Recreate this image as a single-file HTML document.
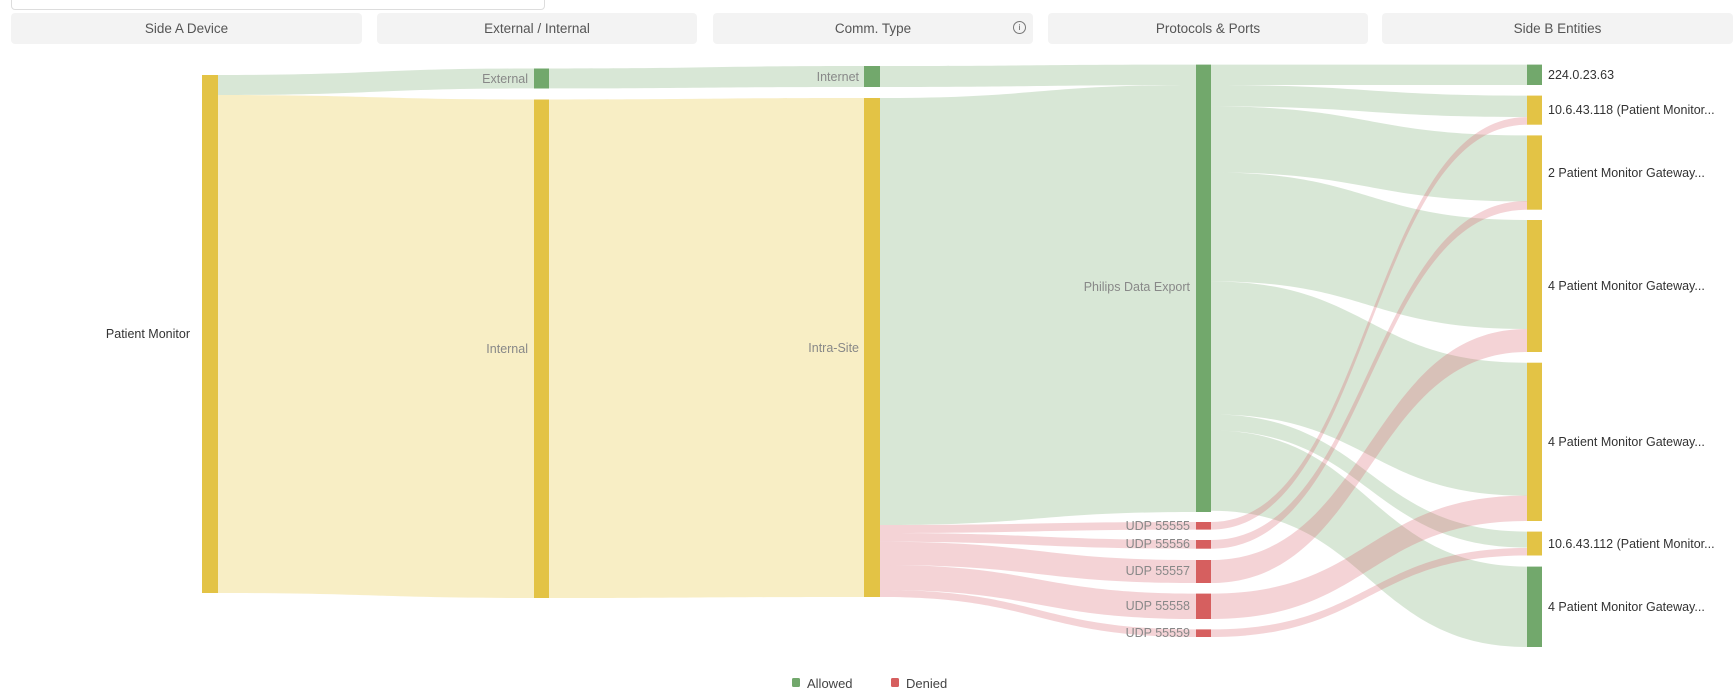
<!DOCTYPE html>
<html><head><meta charset="utf-8"><style>
body{margin:0;width:1733px;height:692px;background:#fff;overflow:hidden;font-family:"Liberation Sans",sans-serif;position:relative}
.hd{position:absolute;top:13px;height:31px;background:#f3f3f3;border-radius:4px;color:#555;font-size:13.5px;display:flex;align-items:center;justify-content:center}
.sb{position:absolute;left:11px;top:-6px;width:532px;height:14px;border:1px solid #ddd;border-radius:4px}
svg{position:absolute;left:0;top:0}
</style></head><body>
<div class="sb"></div>
<div class="hd" style="left:11px;width:351px">Side A Device</div>
<div class="hd" style="left:377px;width:320px">External / Internal</div>
<div class="hd" style="left:713px;width:320px">Comm. Type<span style="position:absolute;left:300px;top:8px;width:11px;height:11px;border:1px solid #777;border-radius:50%;font-size:8px;line-height:11px;text-align:center">i</span></div>
<div class="hd" style="left:1048px;width:320px">Protocols &amp; Ports</div>
<div class="hd" style="left:1382px;width:351px">Side B Entities</div>
<svg width="1733" height="692" font-family="Liberation Sans, sans-serif" font-size="12.5">
<g fill="#e8c94a" fill-opacity="0.32">
<path d="M218 95 C376 95 376 99.5 534 99.5 L534 598 C376 598 376 593 218 593Z"/>
<path d="M549 99.5 C706 99.5 706 98 864 98 L864 597 C706 597 706 598 549 598Z"/>
</g>
<g fill="#74a96d" fill-opacity="0.28">
<path d="M218 75 C376 75 376 68.5 534 68.5 L534 88.4 C376 88.4 376 95 218 95Z"/>
<path d="M549 68.5 C706 68.5 706 66 864 66 L864 87 C706 87 706 88.4 549 88.4Z"/>
<path d="M880 66 C1038 66 1038 64.6 1196 64.6 L1196 85 C1038 85 1038 87 880 87Z"/>
<path d="M880 98 C1038 98 1038 85 1196 85 L1196 512 C1038 512 1038 525 880 525Z"/>
<path d="M1211 64.6 C1369 64.6 1369 64.6 1527 64.6 L1527 85 C1369 85 1369 85 1211 85Z"/>
<path d="M1211 85 C1369 85 1369 95.6 1527 95.6 L1527 117 C1369 117 1369 106.4 1211 106.4Z"/>
<path d="M1211 106.4 C1369 106.4 1369 135.4 1527 135.4 L1527 201.4 C1369 201.4 1369 172.4 1211 172.4Z"/>
<path d="M1211 172.4 C1369 172.4 1369 220 1527 220 L1527 329 C1369 329 1369 281.4 1211 281.4Z"/>
<path d="M1211 281.4 C1369 281.4 1369 362.7 1527 362.7 L1527 495.7 C1369 495.7 1369 414.4 1211 414.4Z"/>
<path d="M1211 414.4 C1369 414.4 1369 531.6 1527 531.6 L1527 547.6 C1369 547.6 1369 430.4 1211 430.4Z"/>
<path d="M1211 430.4 C1369 430.4 1369 566.6 1527 566.6 L1527 647 C1369 647 1369 510.8 1211 510.8Z"/>
</g>
<g fill="#d9606a" fill-opacity="0.28">
<path d="M880 525 C1038 525 1038 522 1196 522 L1196 529.6 C1038 529.6 1038 533 880 533Z"/>
<path d="M880 533 C1038 533 1038 540 1196 540 L1196 548.7 C1038 548.7 1038 541.7 880 541.7Z"/>
<path d="M880 541.7 C1038 541.7 1038 560 1196 560 L1196 583 C1038 583 1038 565 880 565Z"/>
<path d="M880 565 C1038 565 1038 593.6 1196 593.6 L1196 619 C1038 619 1038 590 880 590Z"/>
<path d="M880 590 C1038 590 1038 629.4 1196 629.4 L1196 637 C1038 637 1038 597 880 597Z"/>
<path d="M1211 522 C1369 522 1369 117.1 1527 117.1 L1527 124.7 C1369 124.7 1369 529.6 1211 529.6Z"/>
<path d="M1211 540 C1369 540 1369 201 1527 201 L1527 209.7 C1369 209.7 1369 548.7 1211 548.7Z"/>
<path d="M1211 560 C1369 560 1369 329 1527 329 L1527 352 C1369 352 1369 583 1211 583Z"/>
<path d="M1211 593.6 C1369 593.6 1369 495.6 1527 495.6 L1527 521 C1369 521 1369 619 1211 619Z"/>
<path d="M1211 629.4 C1369 629.4 1369 548 1527 548 L1527 555.5 C1369 555.5 1369 637 1211 637Z"/>
</g>
<g>
<rect x="202" y="75" width="16" height="518" fill="#e3c345"/>
<rect x="534" y="68.5" width="15" height="20" fill="#72a86c"/>
<rect x="534" y="99.5" width="15" height="498.5" fill="#e3c345"/>
<rect x="864" y="66" width="16" height="21" fill="#72a86c"/>
<rect x="864" y="98" width="16" height="499" fill="#e3c345"/>
<rect x="1196" y="64.6" width="15" height="447.4" fill="#72a86c"/>
<rect x="1196" y="522" width="15" height="7.6" fill="#d65f5f"/>
<rect x="1196" y="540" width="15" height="8.7" fill="#d65f5f"/>
<rect x="1196" y="560" width="15" height="23" fill="#d65f5f"/>
<rect x="1196" y="593.6" width="15" height="25.4" fill="#d65f5f"/>
<rect x="1196" y="629.4" width="15" height="7.6" fill="#d65f5f"/>
<rect x="1527" y="64.6" width="15" height="20.4" fill="#72a86c"/>
<rect x="1527" y="95.6" width="15" height="29.1" fill="#e3c345"/>
<rect x="1527" y="135.4" width="15" height="74.3" fill="#e3c345"/>
<rect x="1527" y="220" width="15" height="132" fill="#e3c345"/>
<rect x="1527" y="362.7" width="15" height="158.3" fill="#e3c345"/>
<rect x="1527" y="531.6" width="15" height="23.9" fill="#e3c345"/>
<rect x="1527" y="566.6" width="15" height="80.4" fill="#72a86c"/>
</g>
<g text-anchor="end" fill="#888">
<text x="190" y="338" fill="#333">Patient Monitor</text>
<text x="528" y="83">External</text>
<text x="528" y="353">Internal</text>
<text x="859" y="81">Internet</text>
<text x="859" y="352">Intra-Site</text>
<text x="1190" y="291">Philips Data Export</text>
<text x="1190" y="530">UDP 55555</text>
<text x="1190" y="548">UDP 55556</text>
<text x="1190" y="575">UDP 55557</text>
<text x="1190" y="610">UDP 55558</text>
<text x="1190" y="637">UDP 55559</text>
</g>
<g fill="#333">
<text x="1548" y="79">224.0.23.63</text>
<text x="1548" y="114">10.6.43.118 (Patient Monitor...</text>
<text x="1548" y="177">2 Patient Monitor Gateway...</text>
<text x="1548" y="290">4 Patient Monitor Gateway...</text>
<text x="1548" y="446">4 Patient Monitor Gateway...</text>
<text x="1548" y="548">10.6.43.112 (Patient Monitor...</text>
<text x="1548" y="611">4 Patient Monitor Gateway...</text>
</g>
<rect x="792" y="678" width="8" height="9" rx="1.5" fill="#72a86c"/>
<text x="807" y="688" fill="#444" font-size="13">Allowed</text>
<rect x="891" y="678" width="8" height="9" rx="1.5" fill="#d65f5f"/>
<text x="906" y="688" fill="#444" font-size="13">Denied</text>
</svg>
</body></html>
